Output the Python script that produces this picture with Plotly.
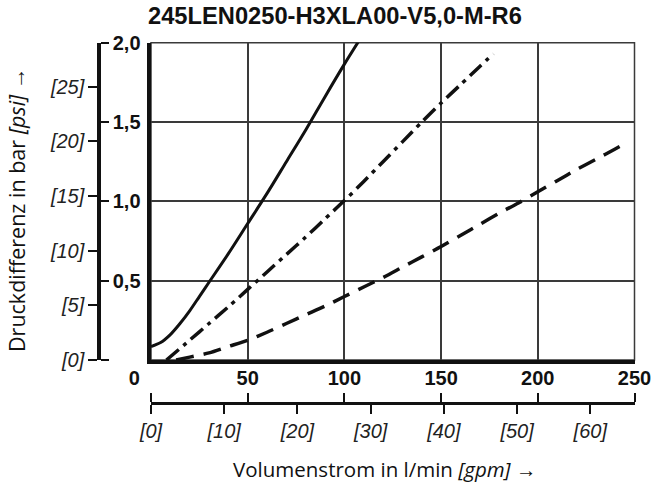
import plotly.graph_objects as go

# ---------------- data ----------------
title_text = "245LEN0250-H3XLA00-V5,0-M-R6"

solid_x = [0, 5, 10, 15, 20, 25, 30, 40, 50, 60, 70, 80, 90, 100, 110]
solid_y = [0.085, 0.11, 0.16, 0.23, 0.31, 0.40, 0.49, 0.67, 0.86, 1.05, 1.25, 1.45, 1.66, 1.865, 2.06]

dashdot_x = [8, 20, 30, 40, 50, 60, 70, 80, 90, 100, 110, 120, 130, 140, 150, 160, 170, 177]
dashdot_y = [0.0, 0.125, 0.23, 0.335, 0.445, 0.555, 0.665, 0.775, 0.89, 1.005, 1.125, 1.25,
             1.375, 1.50, 1.62, 1.735, 1.85, 1.93]

dash_x = [13, 20, 30, 40, 50, 60, 70, 80, 90, 100, 110, 120, 130, 140, 150, 160, 170, 180,
          190, 200, 210, 220, 230, 240, 246]
dash_y = [0.0, 0.018, 0.045, 0.085, 0.125, 0.175, 0.23, 0.285, 0.34, 0.40, 0.46, 0.52, 0.585,
          0.65, 0.715, 0.785, 0.855, 0.925, 0.99, 1.06, 1.13, 1.20, 1.265, 1.33, 1.37]

lpm_ticks = [0, 50, 100, 150, 200, 250]
lpm_labels = ["0" + "&nbsp;" * 6, "50", "100", "150", "200", "250"]
gpm_ticks = [0, 10, 20, 30, 40, 50, 60]
gpm_labels = ["[0]", "[10]", "[20]", "[30]", "[40]", "[50]", "[60]"]
bar_ticks = [0, 0.5, 1.0, 1.5, 2.0]
bar_labels = ["", "0,5", "1,0", "1,5", "2,0"]
psi_ticks = [0, 5, 10, 15, 20, 25]
psi_labels = ["[0]", "[5]", "[10]", "[15]", "[20]", "[25]"]

LPM_PER_GPM = 3.785411784
PSI_PER_BAR = 14.5038
X_MAX = 250
Y_MAX = 2.0

# ---------------- layout helpers ----------------
W, H = 652, 488


def fx(px):
    return px / W


def fy(py):
    return 1 - py / H


FONT = "Liberation Sans, Arial, sans-serif"
TFONT = "Open Sans, Liberation Sans, sans-serif"
BLACK = "#111111"
GRID = "#3a3a3a"

fig = go.Figure()

fig.add_trace(go.Scatter(x=solid_x, y=solid_y, mode="lines", line_shape="spline",
                         line=dict(color=BLACK, width=3, smoothing=0.8),
                         hoverinfo="skip", showlegend=False))
fig.add_trace(go.Scatter(x=dashdot_x, y=dashdot_y, mode="lines", line_shape="spline",
                         line=dict(color=BLACK, width=3.5, dash="16px,6px,4px,6px", smoothing=0.8),
                         hoverinfo="skip", showlegend=False))
fig.add_trace(go.Scatter(x=dash_x, y=dash_y, mode="lines", line_shape="spline",
                         line=dict(color=BLACK, width=3.5, dash="18px,10px", smoothing=0.8),
                         hoverinfo="skip", showlegend=False))
# empty traces so the secondary axes are drawn
fig.add_trace(go.Scatter(x=[None], y=[None], xaxis="x2", yaxis="y2", mode="lines",
                         hoverinfo="skip", showlegend=False))
fig.add_trace(go.Scatter(x=[None], y=[None], xaxis="x3", yaxis="y3", mode="lines",
                         hoverinfo="skip", showlegend=False))

xdom = [fx(151), fx(634.5)]
ydom = [fy(360), fy(42.7)]
left_pos = fx(99)
bottom_pos = fy(403)

bold_tick = dict(family=FONT, size=20, color=BLACK, weight="bold")
ital_tick = dict(family=FONT, size=20, color="#222222", style="italic")

fig.update_layout(
    width=W, height=H,
    margin=dict(l=0, r=0, t=0, b=0),
    paper_bgcolor="white", plot_bgcolor="white",
    showlegend=False,
    xaxis=dict(domain=xdom, range=[0, X_MAX], tickvals=lpm_ticks, showticklabels=False,
               ticks="", showgrid=True, gridcolor=GRID, gridwidth=1.5, zeroline=False,
               showline=True, linecolor=BLACK, linewidth=3.5, mirror=False, anchor="y",
               automargin=False, fixedrange=True),
    yaxis=dict(domain=ydom, range=[0, Y_MAX], tickvals=bar_ticks, showticklabels=False,
               ticks="", showgrid=True, gridcolor=GRID, gridwidth=1.5, zeroline=False,
               showline=True, linecolor=BLACK, linewidth=3.5, mirror=False, anchor="x",
               automargin=False, fixedrange=True),
    # lower l/min axis: ticks up, labels above
    xaxis2=dict(domain=xdom, range=[0, X_MAX], overlaying="x", anchor="free",
                position=bottom_pos, side="top", tickvals=lpm_ticks, ticktext=lpm_labels,
                ticks="outside", ticklen=9, tickwidth=2, tickcolor=BLACK,
                showline=True, linecolor=BLACK, linewidth=3, showgrid=False, zeroline=False,
                tickfont=bold_tick, automargin=False, fixedrange=True),
    # lower gpm axis: ticks down, labels below
    xaxis3=dict(domain=xdom, range=[0, X_MAX / LPM_PER_GPM], overlaying="x", anchor="free",
                position=bottom_pos, side="bottom", tickvals=gpm_ticks, ticktext=gpm_labels,
                ticks="outside", ticklen=9, tickwidth=1.5, tickcolor=BLACK,
                showline=True, linecolor=BLACK, linewidth=3, showgrid=False, zeroline=False,
                tickfont=ital_tick, automargin=False, fixedrange=True),
    # separate left axis: bar labels to the right
    yaxis2=dict(domain=ydom, range=[0, Y_MAX], overlaying="y", anchor="free",
                position=left_pos, side="right", tickvals=bar_ticks, ticktext=bar_labels,
                ticks="outside", ticklen=8, tickwidth=2, tickcolor=BLACK,
                showline=True, linecolor=BLACK, linewidth=3.5, showgrid=False, zeroline=False,
                tickfont=bold_tick, automargin=False, fixedrange=True),
    # psi labels to the left
    yaxis3=dict(domain=ydom, range=[0, Y_MAX * PSI_PER_BAR], overlaying="y", anchor="free",
                position=left_pos, side="left", tickvals=psi_ticks, ticktext=psi_labels,
                ticks="outside", ticklen=9, tickwidth=1.5, tickcolor=BLACK,
                showline=True, linecolor=BLACK, linewidth=3.5, showgrid=False, zeroline=False,
                tickfont=ital_tick, automargin=False, fixedrange=True),
)

# thin top/right frame of the plot area
fig.add_shape(type="rect", xref="x domain", yref="y domain", x0=0, x1=1, y0=0, y1=1,
              line=dict(color=GRID, width=1.5), fillcolor="rgba(0,0,0,0)", layer="below")

fig.add_annotation(x=fx(335), y=fy(16), xref="paper", yref="paper", showarrow=False,
                   text="<b>" + title_text + "</b>", xanchor="center", yanchor="middle",
                   font=dict(family=FONT, size=23.7, color=BLACK))
fig.add_annotation(x=fx(384), y=fy(469), xref="paper", yref="paper", showarrow=False,
                   text="Volumenstrom in l/min <i>[gpm]</i> →", xanchor="center",
                   yanchor="middle", font=dict(family=TFONT, size=20.5, color=BLACK))
fig.add_annotation(x=fx(16), y=fy(210), xref="paper", yref="paper", showarrow=False,
                   text="Druckdifferenz in bar <i>[psi]</i> →", textangle=-90,
                   xanchor="center", yanchor="middle",
                   font=dict(family=TFONT, size=21.5, color=BLACK))

fig.write_html("out.html", config={"displayModeBar": False})
